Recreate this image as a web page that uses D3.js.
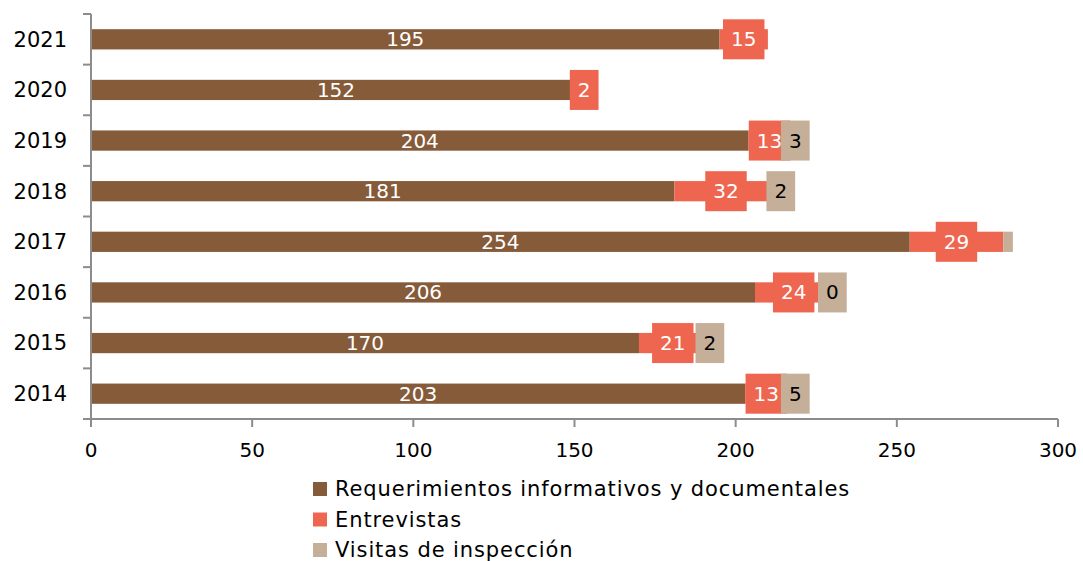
<!DOCTYPE html>
<html>
<head>
<meta charset="utf-8">
<script src="https://cdn.jsdelivr.net/npm/d3@7"></script>
<style>
  body { margin: 0; background: #fff; }
  text { font-family: "DejaVu Sans", sans-serif; }
</style>
</head>
<body>
<svg id="chart" width="1083" height="561"></svg>
<script>
"use strict";

var years = ["2021", "2020", "2019", "2018", "2017", "2016", "2015", "2014"];
var requerimientos = [195, 152, 204, 181, 254, 206, 170, 203];
var entrevistas = [15, 2, 13, 32, 29, 24, 21, 13];
var visitas = [null, null, 3, 2, 3, 0, 2, 5];
var visitasShown = [false, false, true, true, false, true, true, true];
var seriesNames = ["Requerimientos informativos y documentales", "Entrevistas", "Visitas de inspección"];
var xTicks = [0, 50, 100, 150, 200, 250, 300];

var colors = ["#865b3a", "#ee6650", "#c5af99"];
var textColors = ["#fff", "#fff", "#000"];
var axisColor = "#8c8c8c";
var fontSize = 20;

var svg = d3.select("#chart"),
    margin = {top: 14, left: 91, right: 25},
    plotBottom = 419;

var x = d3.scaleLinear().domain([0, 300]).range([margin.left, 1083 - margin.right]);
var y = d3.scaleBand().domain(years).range([margin.top, plotBottom]).padding(0);
var barH = y.bandwidth() * 0.4;

// stack the three series per year
var rows = years.map(function(yr, i) {
  var vals = [requerimientos[i], entrevistas[i], visitas[i]];
  var start = 0, segs = [];
  vals.forEach(function(v, k) {
    if (v === null) return;
    segs.push({year: yr, k: k, v: v, x0: start, x1: start + v,
      label: k < 2 || visitasShown[i]});
    start += v;
  });
  return segs;
});
var segs = d3.merge(rows);

// bars
svg.append("g").selectAll("rect")
  .data(segs.filter(function(d) { return d.v > 0; }))
  .enter().append("rect")
    .attr("x", function(d) { return x(d.x0); })
    .attr("width", function(d) { return x(d.x1) - x(d.x0); })
    .attr("y", function(d) { return y(d.year) + (y.bandwidth() - barH) / 2; })
    .attr("height", barH)
    .attr("fill", function(d) { return colors[d.k]; });

// axes
var axis = svg.append("g").attr("stroke", axisColor).attr("stroke-width", 2);
axis.append("line")
  .attr("x1", x(0)).attr("x2", x(0))
  .attr("y1", margin.top).attr("y2", plotBottom);
axis.append("line")
  .attr("x1", x(0) - 8).attr("x2", x(300))
  .attr("y1", plotBottom).attr("y2", plotBottom);
axis.selectAll(".ytick")
  .data(d3.range(years.length + 1))
  .enter().append("line")
    .attr("x1", x(0) - 8).attr("x2", x(0))
    .attr("y1", function(i) { return margin.top + i * y.step(); })
    .attr("y2", function(i) { return margin.top + i * y.step(); });
axis.selectAll(".xtick")
  .data(xTicks)
  .enter().append("line")
    .attr("x1", function(d) { return x(d); }).attr("x2", function(d) { return x(d); })
    .attr("y1", plotBottom).attr("y2", plotBottom + 8);

svg.append("g").selectAll("text")
  .data(years)
  .enter().append("text")
    .attr("x", 67)
    .attr("y", function(d) { return y(d) + y.bandwidth() / 2; })
    .attr("dy", "0.35em")
    .attr("text-anchor", "end")
    .attr("font-size", 21)
    .text(function(d) { return d; });

svg.append("g").selectAll("text")
  .data(xTicks)
  .enter().append("text")
    .attr("x", function(d) { return x(d); })
    .attr("y", 457)
    .attr("text-anchor", "middle")
    .attr("font-size", fontSize)
    .text(function(d) { return d; });

// data labels (brown without box, others with coloured box)
var labels = svg.append("g");
[0, 1, 2].forEach(function(k) {
  segs.filter(function(d) { return d.k === k && d.label; }).forEach(function(d) {
    var cx = x((d.x0 + d.x1) / 2),
        cy = y(d.year) + y.bandwidth() / 2;
    var g = labels.append("g");
    var t = g.append("text")
      .attr("x", cx).attr("y", cy)
      .attr("dy", "0.35em")
      .attr("text-anchor", "middle")
      .attr("font-size", fontSize)
      .attr("fill", textColors[k])
      .text(d.v);
    if (k > 0) {
      var w = t.node().getComputedTextLength() + 16;
      g.insert("rect", "text")
        .attr("x", cx - w / 2).attr("y", cy - 20)
        .attr("width", w).attr("height", 40)
        .attr("fill", colors[k]);
    }
  });
});

// legend
var legend = svg.append("g").selectAll("g")
  .data(seriesNames)
  .enter().append("g")
    .attr("transform", function(d, i) { return "translate(313," + (489 + i * 30.5) + ")"; });
legend.append("rect")
  .attr("y", -7).attr("width", 14).attr("height", 14)
  .attr("fill", function(d, i) { return colors[i]; });
legend.append("text")
  .attr("x", 22).attr("dy", "0.35em")
  .attr("font-size", 21)
  .attr("letter-spacing", 0.9)
  .text(function(d) { return d; });
</script>
</body>
</html>
